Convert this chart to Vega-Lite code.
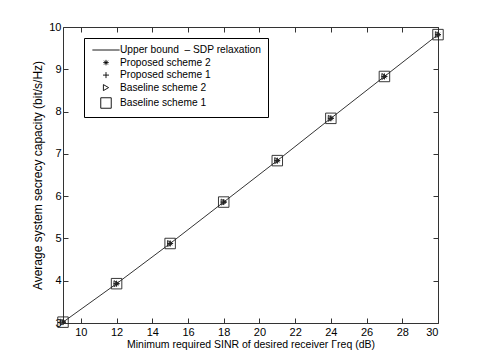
{
  "$schema": "https://vega.github.io/schema/vega-lite/v6.json",
  "width": 375,
  "height": 296,
  "autosize": "none",
  "padding": {"left": 63, "top": 27, "right": 47, "bottom": 40},
  "background": "white",
  "config": {
    "font": "Liberation Sans",
    "view": {"stroke": null},
    "axis": {
      "grid": false,
      "domainColor": "#333",
      "tickColor": "#333",
      "tickSize": -5,
      "labelColor": "black",
      "titleColor": "black",
      "labelFont": "Liberation Sans",
      "titleFont": "Liberation Sans",
      "labelFontSize": 11,
      "titleFontSize": 11,
      "titleFontWeight": "normal"
    }
  },
  "datasets": {
    "ub": [
      {"snr": 9, "cap": 3.02},
      {"snr": 12, "cap": 3.93},
      {"snr": 15, "cap": 4.88},
      {"snr": 18, "cap": 5.86},
      {"snr": 21, "cap": 6.84},
      {"snr": 24, "cap": 7.84},
      {"snr": 27, "cap": 8.83},
      {"snr": 30, "cap": 9.82}
    ],
    "pts": [
      {"series": "Proposed scheme 2", "snr": 9, "cap": 3.02},
      {"series": "Proposed scheme 2", "snr": 12, "cap": 3.93},
      {"series": "Proposed scheme 2", "snr": 15, "cap": 4.88},
      {"series": "Proposed scheme 2", "snr": 18, "cap": 5.86},
      {"series": "Proposed scheme 2", "snr": 21, "cap": 6.84},
      {"series": "Proposed scheme 2", "snr": 24, "cap": 7.84},
      {"series": "Proposed scheme 2", "snr": 27, "cap": 8.83},
      {"series": "Proposed scheme 2", "snr": 30, "cap": 9.82},
      {"series": "Proposed scheme 1", "snr": 9, "cap": 3.02},
      {"series": "Proposed scheme 1", "snr": 12, "cap": 3.93},
      {"series": "Proposed scheme 1", "snr": 15, "cap": 4.88},
      {"series": "Proposed scheme 1", "snr": 18, "cap": 5.86},
      {"series": "Proposed scheme 1", "snr": 21, "cap": 6.84},
      {"series": "Proposed scheme 1", "snr": 24, "cap": 7.84},
      {"series": "Proposed scheme 1", "snr": 27, "cap": 8.83},
      {"series": "Proposed scheme 1", "snr": 30, "cap": 9.82},
      {"series": "Baseline scheme 2", "snr": 9, "cap": 3.02},
      {"series": "Baseline scheme 2", "snr": 12, "cap": 3.93},
      {"series": "Baseline scheme 2", "snr": 15, "cap": 4.88},
      {"series": "Baseline scheme 2", "snr": 18, "cap": 5.86},
      {"series": "Baseline scheme 2", "snr": 21, "cap": 6.84},
      {"series": "Baseline scheme 2", "snr": 24, "cap": 7.84},
      {"series": "Baseline scheme 2", "snr": 27, "cap": 8.83},
      {"series": "Baseline scheme 2", "snr": 30, "cap": 9.82},
      {"series": "Baseline scheme 1", "snr": 9, "cap": 3.02},
      {"series": "Baseline scheme 1", "snr": 12, "cap": 3.93},
      {"series": "Baseline scheme 1", "snr": 15, "cap": 4.88},
      {"series": "Baseline scheme 1", "snr": 18, "cap": 5.86},
      {"series": "Baseline scheme 1", "snr": 21, "cap": 6.84},
      {"series": "Baseline scheme 1", "snr": 24, "cap": 7.84},
      {"series": "Baseline scheme 1", "snr": 27, "cap": 8.83},
      {"series": "Baseline scheme 1", "snr": 30, "cap": 9.82}
    ]
  },
  "resolve": {"axis": {"x": "independent", "y": "independent"}},
  "layer": [
    {
      "data": {"name": "ub"},
      "mark": {"type": "line", "color": "black", "strokeWidth": 0.8},
      "encoding": {
        "x": {
          "field": "snr", "type": "quantitative",
          "scale": {"domain": [9, 30], "nice": false, "zero": false},
          "axis": {"orient": "bottom", "values": [10, 12, 14, 16, 18, 20, 22, 24, 26, 28, 30], "labelPadding": 8, "titlePadding": 2, "titleFontSize": 10.5,
                   "title": "Minimum required SINR of desired receiver Γreq (dB)"}
        },
        "y": {
          "field": "cap", "type": "quantitative",
          "scale": {"domain": [3, 10], "nice": false, "zero": false},
          "axis": {"orient": "left", "values": [3, 4, 5, 6, 7, 8, 9, 10], "labelPadding": 7, "titlePadding": 4, "titleFontSize": 12,
                   "title": "Average system secrecy capacity (bit/s/Hz)"}
        }
      }
    },
    {
      "data": {"name": "pts"},
      "mark": {"type": "point", "filled": false, "strokeWidth": 0.9, "color": "#222", "opacity": 1},
      "encoding": {
        "x": {"field": "snr", "type": "quantitative",
              "axis": {"orient": "top", "values": [10, 12, 14, 16, 18, 20, 22, 24, 26, 28, 30], "labels": false, "title": null}},
        "y": {"field": "cap", "type": "quantitative",
              "axis": {"orient": "right", "values": [3, 4, 5, 6, 7, 8, 9, 10], "labels": false, "title": null}},
        "shape": {
          "field": "series", "type": "nominal",
          "scale": {
            "domain": ["Upper bound\u00a0 – SDP relaxation", "Proposed scheme 2", "Proposed scheme 1", "Baseline scheme 2", "Baseline scheme 1"],
            "range": ["M-2.6,0H2.6", "M0,-1V1M-1,0H1M-0.7,-0.7L0.7,0.7M-0.7,0.7L0.7,-0.7", "M0,-1V1M-1,0H1", "triangle-right", "square"]
          },
          "legend": {
            "title": null,
            "orient": "none",
            "legendX": 21,
            "legendY": 11,
            "labelFont": "Liberation Sans",
            "labelFontSize": 10.2,
            "labelColor": "black",
            "strokeColor": "black",
            "fillColor": "white",
            "padding": 6,
            "rowPadding": 1.5,
            "symbolOffset": 10,
            "labelOffset": 8,
            "symbolStrokeColor": "black",
            "symbolFillColor": "transparent",
            "symbolStrokeWidth": 0.9
          }
        },
        "size": {
          "field": "series", "type": "nominal",
          "scale": {
            "type": "ordinal",
            "domain": ["Upper bound\u00a0 – SDP relaxation", "Proposed scheme 2", "Proposed scheme 1", "Baseline scheme 2", "Baseline scheme 1"],
            "range": [110, 30, 36, 36, 110]
          },
          "legend": {
            "title": null,
            "orient": "none",
            "legendX": 21,
            "legendY": 11,
            "labelFont": "Liberation Sans",
            "labelFontSize": 10.2,
            "labelColor": "black",
            "strokeColor": "black",
            "fillColor": "white",
            "padding": 6,
            "rowPadding": 1.5,
            "symbolOffset": 10,
            "labelOffset": 8,
            "symbolStrokeColor": "black",
            "symbolFillColor": "transparent",
            "symbolStrokeWidth": 0.9
          }
        }
      }
    }
  ]
}
